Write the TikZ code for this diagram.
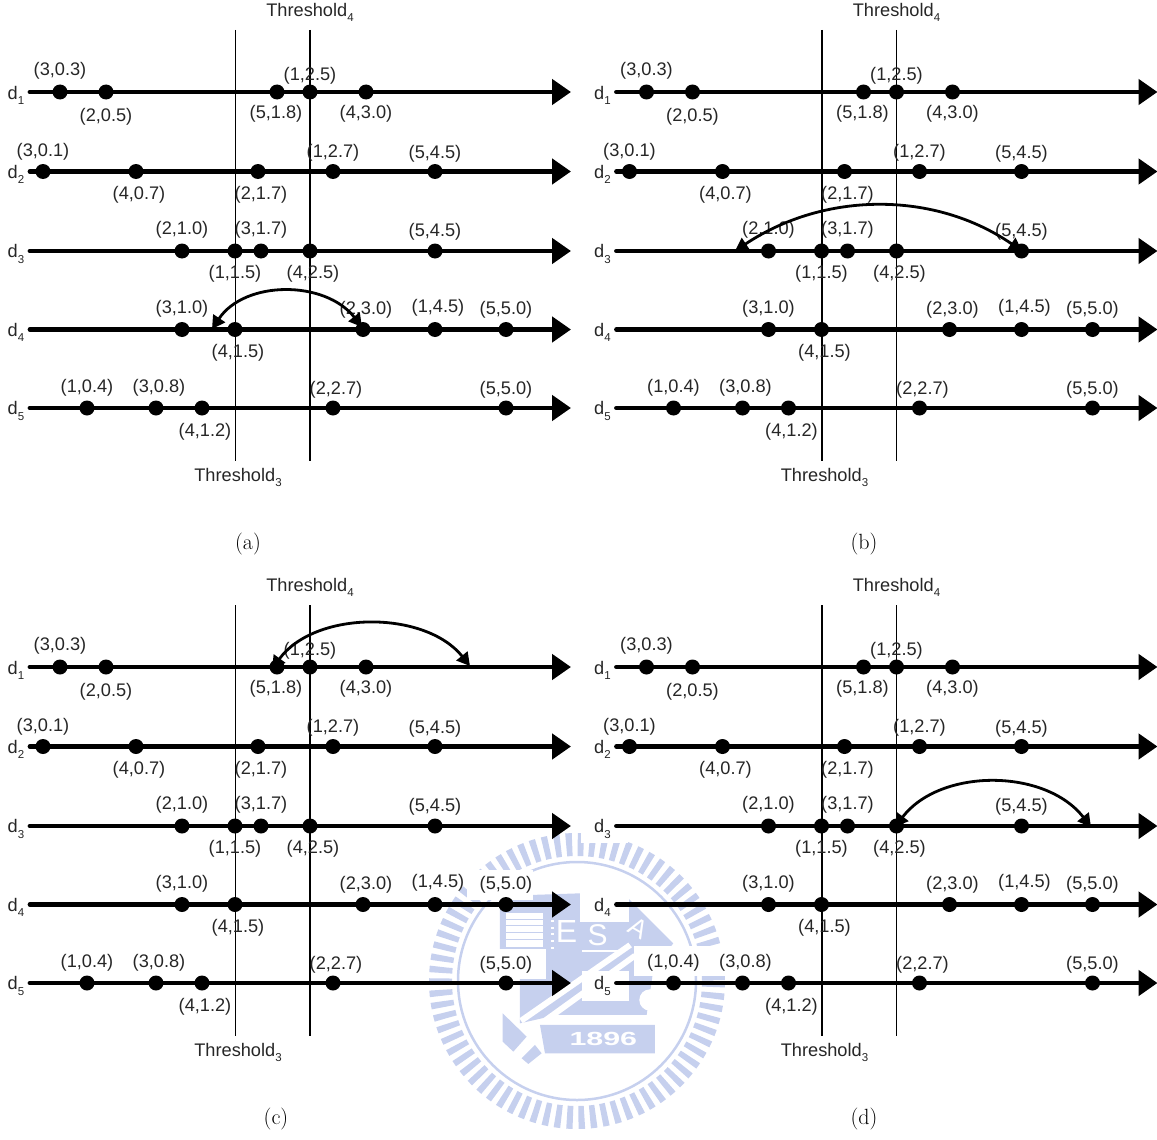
\documentclass[tikz,border=0pt]{standalone}
\usepackage{fontspec}
\usepackage{graphicx}
\usetikzlibrary{arrows.meta}
\newfontfamily\arialf{Liberation Sans}
\definecolor{wm}{HTML}{C6D0EE}
\newcommand{\lowsub}[1]{\raisebox{-0.28em}{\fontsize{11.5}{11.5}\selectfont #1}}
\tikzset{
  axisline/.style={line width=4.8pt,line cap=round,-{Triangle[length=19pt,width=25pt]}},
  thresh/.style={line width=1.3pt,black},
  dotn/.style={circle,fill=black,inner sep=0pt,minimum size=15pt},
  lab/.style={font=\arialf\fontsize{18.2}{20}\selectfont,inner sep=0pt,text=black!85,yshift=-1.5pt},
  capt/.style={font=\fontsize{22}{24}\selectfont,inner sep=0pt},
  swap/.style={line width=2.8pt,{Triangle[length=13pt,width=14pt]}-{Triangle[length=13pt,width=14pt]}},
  patch/.style={fill=white,draw=none},
  wmfill/.style={fill=wm,draw=none},
  wmtext/.style={font=\arialf\bfseries,text=white,inner sep=0pt}
}
% one point on an axis: name, x, y, label x, label y, text
\newcommand{\axpt}[6]{%
  \node[dotn] (p#1) at (#2,#3) {};
  \node[lab] (l#1) at (#4,#5) {#6};
}
\newcommand{\panel}[3]{%
\begin{scope}[shift={(#2,#3)},name prefix=#1-]
  \coordinate (t3a) at (235.5,30); \coordinate (t3b) at (235.5,461);
  \coordinate (t4a) at (310,30);   \coordinate (t4b) at (310,461);
  \draw[thresh] (t3a) -- (t3b);
  \draw[thresh] (t4a) -- (t4b);
  \node[lab] (T4) at (310,10.5) {Threshold\lowsub{4}};
  \node[lab] (T3) at (238,476) {Threshold\lowsub{3}};
  \foreach \r/\y in {1/92,2/171.5,3/251,4/329.5,5/408}{
    \node[lab] (d\r) at (16,\y+1.5) {d\lowsub{\r}};
    \coordinate (s\r) at (30,\y);
    \coordinate (e\r) at (571,\y);
    \draw[axisline] (s\r) -- (e\r);
  }
  \axpt{a1}{60}{92}{60}{69}{(3,0.3)}
  \axpt{a2}{106}{92}{106}{115}{(2,0.5)}
  \axpt{a3}{277}{92}{276}{112}{(5,1.8)}
  \axpt{a4}{310}{92}{310}{74}{(1,2.5)}
  \axpt{a5}{366}{92}{366}{112}{(4,3.0)}
  \axpt{b1}{43}{171.5}{43}{150}{(3,0.1)}
  \axpt{b2}{136}{171.5}{139}{193}{(4,0.7)}
  \axpt{b3}{258}{171.5}{261}{193}{(2,1.7)}
  \axpt{b4}{333}{171.5}{333}{151}{(1,2.7)}
  \axpt{b5}{435}{171.5}{435}{152}{(5,4.5)}
  \axpt{c1}{182}{251}{182}{228}{(2,1.0)}
  \axpt{c2}{235}{251}{235}{272}{(1,1.5)}
  \axpt{c3}{261}{251}{261}{228}{(3,1.7)}
  \axpt{c4}{310}{251}{313}{272}{(4,2.5)}
  \axpt{c5}{435}{251}{435}{230}{(5,4.5)}
  \axpt{e1}{182}{329.5}{182}{307}{(3,1.0)}
  \axpt{e2}{235}{329.5}{238}{351}{(4,1.5)}
  \axpt{e3}{363}{329.5}{366}{308}{(2,3.0)}
  \axpt{e4}{435}{329.5}{438}{306}{(1,4.5)}
  \axpt{e5}{506}{329.5}{506}{308}{(5,5.0)}
  \axpt{f1}{87}{408}{87}{386}{(1,0.4)}
  \axpt{f2}{156}{408}{159}{386}{(3,0.8)}
  \axpt{f3}{202}{408}{205}{430}{(4,1.2)}
  \axpt{f4}{333}{408}{336}{388}{(2,2.7)}
  \axpt{f5}{506}{408}{506}{388}{(5,5.0)}
\end{scope}}
\begin{document}
\begin{tikzpicture}[x=1pt,y=-1pt]
\useasboundingbox (0,0) rectangle (1157,1140);
% watermark seal
\draw[wm,line width=23pt,dash pattern=on 6pt off 5.5pt] (577,981) circle[radius=136.5];
\draw[wm,line width=2.5pt] (577,981) circle[radius=119];
\begin{scope}[shift={(420,810)},x=0.3333pt,y=-0.3333pt]
  \fill[wmfill] (240,258) -- (480,250) -- (480,335) -- (585,335) -- (610,250) -- (760,400) -- (700,480) -- (680,615) -- (410,615) -- (300,640) -- (300,480) -- (240,480) -- cycle;
  \fill[white] (258,310) rectangle (370,412);
  \foreach \yy in {326,346,366,386} \fill[wm] (258,\yy) rectangle (370,\yy+3);
  \foreach \yy in {330,350,370,390,410} \fill[white] (392,\yy) rectangle (402,\yy+6);
  \node[wmtext,font=\arialf\fontsize{32}{32}\selectfont] (wmE) at (440,365) {E};
  \node[wmtext,font=\arialf\fontsize{30}{30}\selectfont] (wmS) at (533,375) {S};
  \node[wmtext,font=\arialf\fontsize{26}{26}\selectfont,rotate=-30] (wmA) at (655,355) {A};
  \fill[white] (485,420) rectangle (600,426);
  \fill[white] (690,570) circle[radius=32];
  \fill[white] (298,625) -- (625,398) -- (636,412) -- (308,640) -- cycle;
  \fill[white] (328,655) -- (640,430) -- (650,444) -- (338,670) -- cycle;
  \fill[wmfill] (360,645) -- (705,645) -- (705,730) -- (375,730) -- cycle;
  \node[wmtext,font=\arialf\bfseries\fontsize{19}{19}\selectfont] (wmY) at (550,688) {\scalebox{1.6}[1]{1896}};
  \fill[wmfill] (248,610) -- (320,680) -- (280,725) -- (248,695) -- cycle;
  \fill[wmfill] (305,745) -- (345,705) -- (365,730) -- (325,762) -- cycle;
\end{scope}
% white patches left behind the labels
\fill[patch] (581,810) rectangle (628,843);
\fill[patch] (580,892) rectangle (629,922);
\fill[patch] (582,971) rectangle (629,1001);
\fill[patch] (634,946) rectangle (726,976);
\fill[patch] (467,870) rectangle (533,900);
\fill[patch] (470,949) rectangle (546,979);
% panels
\panel{A}{0}{0}
\panel{B}{586.5}{0}
\panel{C}{0}{575}
\panel{D}{586.5}{575}
% moved-point arcs
\coordinate (aL) at (212,329); \coordinate (aR) at (362,327);
\draw[swap] (aL) .. controls (245,280) and (325,280) .. (aR);
\coordinate (bL) at (735,251); \coordinate (bR) at (1022,251);
\draw[swap] (bL) .. controls (825,191) and (935,191) .. (bR);
\coordinate (cL) at (272,669); \coordinate (cR) at (470,666);
\draw[swap] (cL) .. controls (315,610) and (425,610) .. (cR);
\coordinate (dL) at (895,827); \coordinate (dR) at (1091,827);
\draw[swap] (dL) .. controls (940,768) and (1045,768) .. (dR);
% captions
\node[capt] (capa) at (248,544) {(a)};
\node[capt] (capb) at (864,544) {(b)};
\node[capt] (capc) at (276,1119) {(c)};
\node[capt] (capd) at (864,1119) {(d)};
\end{tikzpicture}
\end{document}
